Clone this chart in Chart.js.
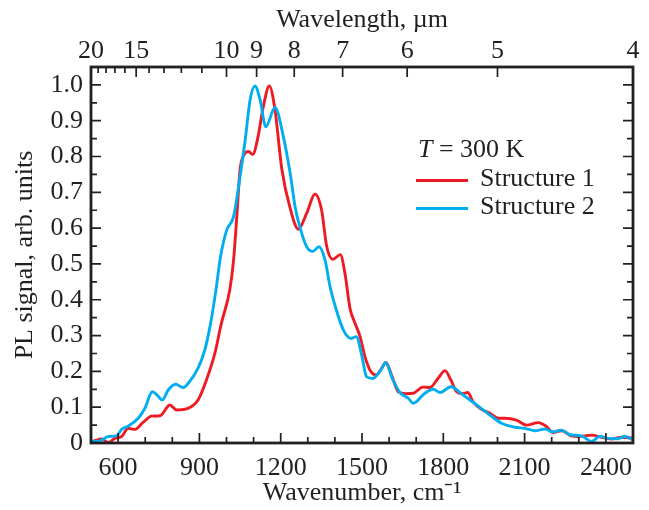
<!DOCTYPE html>
<html>
<head>
<meta charset="utf-8">
<script src="https://cdn.jsdelivr.net/npm/chart.js@4.4.1/dist/chart.umd.min.js"></script>
<style>html,body{margin:0;padding:0;background:#fff}</style>
</head>
<body>
<canvas id="plChart" width="649" height="510"></canvas>
<script>
// PL spectra at 300 K, two structures

const wavenumber1 = [500,520,539,564,588,613,637,662,693,723,754,791,816,852,895,926,957,981,1012,1026,1038,1050,1065,1081,1097,1115,1136,1158,1179,1204,1235,1265,1296,1327,1351,1370,1392,1420,1437,1456,1474,1493,1511,1529,1552,1573,1588,1609,1634,1660,1689,1724,1751,1781,1806,1828,1849,1870,1890,1910,1941,1972,2002,2027,2070,2107,2150,2181,2205,2236,2273,2297,2347,2384,2420,2457,2500];
const signal1 = [0.002,0.008,0.011,0.001,0.013,0.018,0.041,0.038,0.058,0.075,0.076,0.106,0.092,0.095,0.12,0.176,0.25,0.334,0.427,0.51,0.632,0.763,0.805,0.814,0.806,0.85,0.94,0.997,0.93,0.765,0.655,0.597,0.642,0.695,0.65,0.548,0.513,0.526,0.474,0.375,0.335,0.297,0.241,0.204,0.19,0.209,0.225,0.19,0.143,0.138,0.139,0.156,0.155,0.181,0.202,0.176,0.143,0.138,0.141,0.115,0.094,0.083,0.069,0.069,0.064,0.05,0.057,0.046,0.029,0.034,0.02,0.018,0.022,0.016,0.011,0.016,0.014];

const wavenumber2 = [500,520,539,564,594,613,637,674,699,726,740,763,785,812,840,859,895,920,939,961,977,1001,1026,1050,1069,1087,1105,1124,1145,1179,1210,1235,1253,1271,1296,1318,1341,1364,1382,1404,1431,1460,1479,1499,1517,1540,1566,1588,1612,1640,1671,1689,1732,1763,1788,1828,1868,1929,1972,2015,2064,2101,2138,2175,2205,2236,2267,2310,2347,2378,2408,2445,2470,2500];
const signal2 = [0.006,0.004,0.008,0.018,0.02,0.038,0.047,0.069,0.097,0.143,0.137,0.12,0.148,0.164,0.155,0.167,0.209,0.26,0.325,0.427,0.516,0.595,0.632,0.744,0.846,0.958,0.997,0.958,0.883,0.937,0.855,0.753,0.66,0.602,0.548,0.535,0.548,0.51,0.437,0.375,0.316,0.292,0.297,0.245,0.185,0.18,0.2,0.224,0.18,0.141,0.125,0.111,0.139,0.15,0.141,0.157,0.137,0.103,0.078,0.055,0.044,0.041,0.034,0.039,0.031,0.036,0.023,0.02,0.004,0.019,0.013,0.012,0.019,0.008];

const seriesLabels = ['Structure 1', 'Structure 2'];
const seriesColors = ['#ed1c24', '#00aeef'];

const bottomTicks = [600, 900, 1200, 1500, 1800, 2100, 2400];
const yTicks = [0, 0.1, 0.2, 0.3, 0.4, 0.5, 0.6, 0.7, 0.8, 0.9, 1.0];
const wavelengthMajor = [20, 15, 10, 9, 8, 7, 6, 5, 4];
const wavelengthMinor = [19, 18, 17, 16, 14, 13, 12, 11];

const INK = '#231f20';
const FONT = 'Liberation Serif';

const toPoints = (xs, ys) => xs.map((x, i) => ({ x: x, y: ys[i] }));

const frameTicks = {
  id: 'frameTicks',
  afterDatasetsDraw(chart) {
    const { ctx, chartArea: a, scales: { x, y } } = chart;
    ctx.save();
    ctx.strokeStyle = INK;
    ctx.lineWidth = 1.7;
    ctx.beginPath();
    // bottom: every 100 cm-1, long at labelled ones
    for (let v = 600; v < 2500; v += 100) {
      const px = x.getPixelForValue(v), L = v % 300 === 0 ? 10 : 6;
      ctx.moveTo(px, a.bottom); ctx.lineTo(px, a.bottom - L);
    }
    // top: wavelength ticks
    wavelengthMajor.concat(wavelengthMinor).forEach(l => {
      const px = x.getPixelForValue(10000 / l), L = wavelengthMajor.includes(l) ? 10 : 6;
      ctx.moveTo(px, a.top); ctx.lineTo(px, a.top + L);
    });
    // left and right: every 0.05
    for (let i = 1; i <= 20; i++) {
      const py = y.getPixelForValue(i * 0.05), L = i % 2 === 0 ? 10 : 6;
      ctx.moveTo(a.left, py); ctx.lineTo(a.left + L, py);
      ctx.moveTo(a.right, py); ctx.lineTo(a.right - L, py);
    }
    ctx.stroke();
    ctx.lineWidth = 2.8;
    ctx.strokeRect(a.left, a.top, a.right - a.left, a.bottom - a.top);

    // legend
    ctx.fillStyle = INK;
    ctx.textBaseline = 'middle';
    ctx.font = 'italic 26px "' + FONT + '"';
    ctx.fillText('T', 418, 150);
    const wT = ctx.measureText('T').width;
    ctx.font = '26px "' + FONT + '"';
    ctx.fillText(' = 300 K', 418 + wT, 150);
    chart.data.datasets.forEach((ds, i) => {
      const ly = 180.5 + i * 28;
      ctx.strokeStyle = ds.borderColor;
      ctx.lineWidth = 2.9;
      ctx.beginPath(); ctx.moveTo(416, ly); ctx.lineTo(468, ly); ctx.stroke();
      ctx.fillStyle = INK;
      ctx.fillText(ds.label, 480, ly - 1);
    });
    ctx.restore();
  }
};

const tickFont = { family: FONT, size: 26, lineHeight: 1.2 };
const titleFont = { family: FONT, size: 26, lineHeight: 1.2 };

new Chart(document.getElementById('plChart').getContext('2d'), {
  type: 'line',
  data: {
    datasets: [
      { label: seriesLabels[0], data: toPoints(wavenumber1, signal1), borderColor: seriesColors[0], borderWidth: 2.9, pointRadius: 0, cubicInterpolationMode: 'monotone', order: 1 },
      { label: seriesLabels[1], data: toPoints(wavenumber2, signal2), borderColor: seriesColors[1], borderWidth: 2.9, pointRadius: 0, cubicInterpolationMode: 'monotone', order: 0 }
    ]
  },
  options: {
    responsive: false,
    animation: false,
    devicePixelRatio: 1,
    layout: { padding: { left: 0, right: 16, top: 0, bottom: 0 } },
    plugins: { legend: { display: false }, tooltip: { enabled: false } },
    scales: {
      x: {
        type: 'linear', position: 'bottom', min: 500, max: 2500,
        grid: { display: false, drawTicks: false }, border: { display: false },
        afterBuildTicks: s => { s.ticks = bottomTicks.map(v => ({ value: v })); },
        afterFit: s => { s.height = 67; },
        ticks: { font: tickFont, color: INK, padding: 9.4, autoSkip: false, maxRotation: 0, callback: v => String(v) },
        title: { display: true, text: 'Wavenumber, cm\u207B\u00B9', font: titleFont, color: INK, padding: { top: 0, bottom: 1.4 } }
      },
      x2: {
        type: 'linear', position: 'top', min: 500, max: 2500,
        grid: { display: false, drawTicks: false }, border: { display: false },
        afterBuildTicks: s => { s.ticks = wavelengthMajor.map(l => ({ value: 10000 / l })); },
        afterFit: s => { s.height = 67; },
        ticks: { font: tickFont, color: INK, padding: 0, autoSkip: false, maxRotation: 0, callback: v => String(Math.round(10000 / v)) },
        title: { display: true, text: 'Wavelength, \u00B5m', font: titleFont, color: INK, padding: { top: 4.4, bottom: 0 } }
      },
      y: {
        type: 'linear', position: 'left', min: 0, max: 1.05,
        grid: { display: false, drawTicks: false }, border: { display: false },
        afterBuildTicks: s => { s.ticks = yTicks.map(v => ({ value: v })); },
        afterFit: s => { s.width = 91; },
        ticks: { font: tickFont, color: INK, padding: 8, callback: v => v === 0 ? '0' : v.toFixed(1) },
        title: { display: true, text: 'PL signal, arb. units', font: titleFont, color: INK, padding: { top: 9.4, bottom: 0 } }
      }
    }
  },
  plugins: [frameTicks]
});
</script>
</body>
</html>
